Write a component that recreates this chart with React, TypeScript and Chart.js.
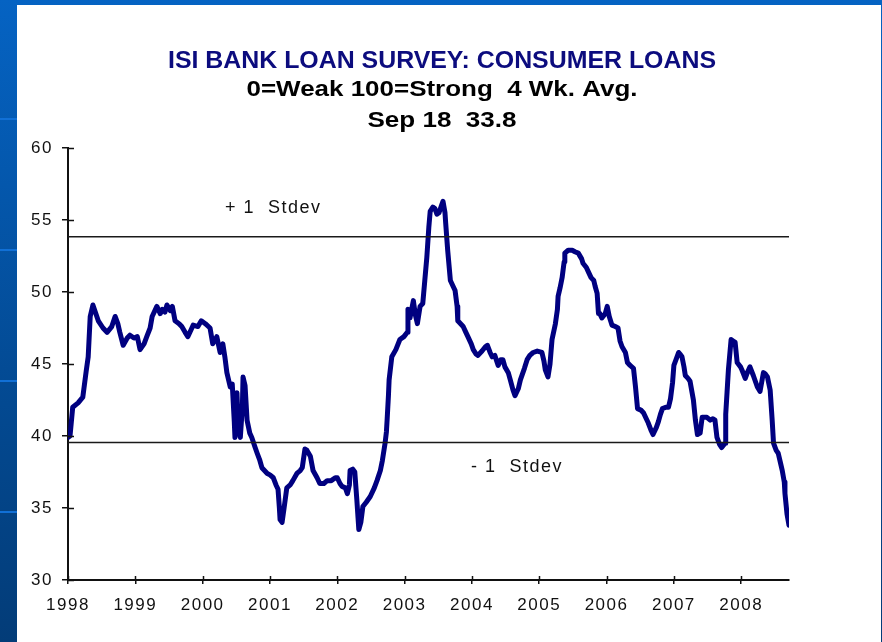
import React, { useEffect, useRef } from "react";
import { Chart, registerables } from "chart.js";

Chart.register(...registerables);

// ---- data (decimal years, index value) ----
const dates = [
  1998.0, 1998.03, 1998.07, 1998.15, 1998.22, 1998.27, 1998.3, 1998.33, 1998.37, 1998.45,
  1998.52, 1998.58, 1998.65, 1998.7, 1998.74, 1998.77, 1998.82, 1998.88, 1998.92, 1998.98,
  1999.03, 1999.07, 1999.13, 1999.17, 1999.22, 1999.25, 1999.32, 1999.37, 1999.4, 1999.44,
  1999.47, 1999.52, 1999.55, 1999.59, 1999.65, 1999.69, 1999.74, 1999.78, 1999.83, 1999.86,
  1999.93, 1999.98, 2000.04, 2000.11, 2000.15, 2000.21, 2000.26, 2000.3, 2000.33, 2000.36,
  2000.41, 2000.44, 2000.47, 2000.48, 2000.51, 2000.53, 2000.56, 2000.59, 2000.6, 2000.63,
  2000.66, 2000.7, 2000.73, 2000.78, 2000.81, 2000.85, 2000.88, 2000.96, 2001.0, 2001.05,
  2001.09, 2001.12, 2001.14, 2001.15, 2001.18, 2001.21, 2001.25, 2001.3, 2001.34, 2001.4,
  2001.45, 2001.48, 2001.52, 2001.55, 2001.6, 2001.64, 2001.7, 2001.74, 2001.8, 2001.85,
  2001.91, 2001.97, 2002.0, 2002.04, 2002.07, 2002.12, 2002.15, 2002.18, 2002.19, 2002.23,
  2002.26, 2002.29, 2002.32, 2002.35, 2002.38, 2002.43, 2002.49, 2002.55, 2002.59, 2002.64,
  2002.67, 2002.71, 2002.73, 2002.74, 2002.76, 2002.77, 2002.81, 2002.87, 2002.93, 2002.99,
  2003.04, 2003.05, 2003.08, 2003.13, 2003.16, 2003.19, 2003.23, 2003.27, 2003.3, 2003.33,
  2003.36, 2003.38, 2003.42, 2003.45, 2003.48, 2003.51, 2003.54, 2003.57, 2003.6, 2003.61,
  2003.64, 2003.68, 2003.72, 2003.75, 2003.78, 2003.79, 2003.87, 2003.91, 2003.94, 2003.99,
  2004.02, 2004.06, 2004.09, 2004.15, 2004.2, 2004.23, 2004.27, 2004.3, 2004.34, 2004.39,
  2004.43, 2004.46, 2004.49, 2004.54, 2004.57, 2004.61, 2004.64, 2004.69, 2004.72, 2004.78,
  2004.82, 2004.86, 2004.91, 2004.97, 2005.04, 2005.07, 2005.09, 2005.13, 2005.16, 2005.19,
  2005.24, 2005.27, 2005.28, 2005.31, 2005.34, 2005.37, 2005.38, 2005.43, 2005.49, 2005.53,
  2005.58, 2005.63, 2005.65, 2005.7, 2005.73, 2005.77, 2005.81, 2005.83, 2005.86, 2005.88,
  2005.9, 2005.93, 2005.98, 2006.01, 2006.04, 2006.08, 2006.13, 2006.17, 2006.2, 2006.23,
  2006.28, 2006.31, 2006.35, 2006.4, 2006.43, 2006.46, 2006.51, 2006.55, 2006.59, 2006.62,
  2006.66, 2006.69, 2006.74, 2006.77, 2006.8, 2006.83, 2006.88, 2006.92, 2006.95, 2006.98,
  2007.0, 2007.04, 2007.07, 2007.09, 2007.12, 2007.15, 2007.17, 2007.21, 2007.24, 2007.29,
  2007.32, 2007.35, 2007.39, 2007.42, 2007.46, 2007.49, 2007.54, 2007.58, 2007.61, 2007.64,
  2007.68, 2007.71, 2007.76, 2007.77, 2007.81, 2007.85, 2007.88, 2007.91, 2007.94, 2007.99,
  2008.01, 2008.06, 2008.1, 2008.13, 2008.18, 2008.21, 2008.24, 2008.28, 2008.33, 2008.36,
  2008.39, 2008.43, 2008.46, 2008.48, 2008.52, 2008.55, 2008.58, 2008.61, 2008.64, 2008.65,
  2008.68, 2008.71,
];

const values = [
  39.9, 40.0, 42.0, 42.3, 42.7, 44.5, 45.5, 48.3, 49.1, 48.0,
  47.5, 47.2, 47.6, 48.3, 47.8, 47.2, 46.3, 46.8, 47.0, 46.8,
  46.9, 46.0, 46.4, 46.9, 47.5, 48.3, 49.0, 48.5, 48.8, 48.6,
  49.1, 48.7, 49.0, 48.0, 47.8, 47.6, 47.2, 46.9, 47.4, 47.7,
  47.6, 48.0, 47.8, 47.5, 46.4, 46.9, 45.8, 46.4, 45.5, 44.4,
  43.4, 43.6, 41.0, 39.9, 43.0, 40.5, 39.9, 42.0, 44.1, 43.5,
  41.1, 40.2, 39.9, 39.2, 38.8, 38.3, 37.8, 37.4, 37.3, 37.1,
  36.6, 36.3, 35.0, 34.2, 34.0, 35.0, 36.4, 36.6, 36.9, 37.4,
  37.6, 37.8, 39.1, 39.0, 38.6, 37.6, 37.1, 36.7, 36.7, 36.9,
  36.9, 37.1, 37.1, 36.7, 36.5, 36.4, 36.0, 36.6, 37.6, 37.7,
  37.5, 35.6, 33.5, 34.0, 35.1, 35.4, 35.8, 36.4, 36.9, 37.6,
  38.3, 39.5, 40.3, 41.1, 42.8, 43.9, 45.5, 46.0, 46.7, 46.9,
  47.2, 48.8, 48.2, 49.4, 48.4, 47.8, 49.0, 49.2, 50.8, 52.4,
  54.5, 55.6, 55.9, 55.8, 55.4, 55.5, 55.9, 56.3, 55.5, 54.8,
  52.9, 50.8, 50.4, 50.1, 49.0, 48.0, 47.6, 47.2, 46.9, 46.4,
  46.0, 45.7, 45.6, 45.9, 46.2, 46.3, 45.8, 45.5, 45.6, 44.9,
  45.3, 45.3, 44.8, 44.4, 43.9, 43.2, 42.8, 43.3, 43.9, 44.7,
  45.3, 45.6, 45.8, 45.9, 45.8, 45.2, 44.6, 44.1, 45.0, 46.7,
  47.8, 48.8, 49.7, 50.3, 51.0, 52.1, 52.7, 52.9, 52.9, 52.8,
  52.7, 52.3, 52.0, 51.7, 51.4, 51.0, 50.8, 50.4, 49.9, 48.5,
  48.5, 48.2, 48.5, 49.0, 48.3, 47.7, 47.6, 47.5, 46.6, 46.2,
  45.8, 45.1, 44.9, 44.7, 43.4, 41.9, 41.8, 41.6, 41.2, 40.9,
  40.4, 40.1, 40.6, 41.0, 41.5, 41.9, 42.0, 42.0, 42.6, 43.7,
  44.9, 45.4, 45.8, 45.7, 45.5, 44.8, 44.2, 44.0, 43.8, 42.5,
  41.1, 40.1, 40.2, 41.3, 41.3, 41.3, 41.1, 41.2, 41.1, 39.9,
  39.4, 39.2, 39.5, 41.5, 44.6, 46.7, 46.6, 46.5, 45.1, 44.8,
  44.6, 44.0, 44.5, 44.8, 44.2, 43.8, 43.4, 43.1, 44.4, 44.3,
  44.1, 43.2, 41.1, 39.5, 39.0, 38.8, 38.2, 37.6, 36.8, 36.0,
  34.6, 33.8,
];

const yearTicks = [1998, 1999, 2000, 2001, 2002, 2003, 2004, 2005, 2006, 2007, 2008];
const valueTicks = [30, 35, 40, 45, 50, 55, 60];
const xMin = 1998;
const xMax = 2008.71;
const yMin = 30;
const yMax = 60;
const plusStdev = 53.84;
const minusStdev = 39.55;
const plusStdevLabel = "+ 1  Stdev";
const minusStdevLabel = "- 1  Stdev";
const titleLine = "ISI BANK LOAN SURVEY: CONSUMER LOANS";
const subtitleLine = "0=Weak 100=Strong  4 Wk. Avg.";
const dateLine = "Sep 18  33.8";

function drawFitted(ctx: CanvasRenderingContext2D, text: string, cx: number, baseline: number, font: string, color: string, width: number) {
  ctx.save();
  ctx.font = font;
  (ctx as any).letterSpacing = "0px";
  ctx.fillStyle = color;
  ctx.textAlign = "center";
  ctx.textBaseline = "alphabetic";
  const w = ctx.measureText(text).width;
  const sx = width / w;
  ctx.translate(cx, baseline);
  ctx.scale(sx, 1);
  ctx.fillText(text, 0, 0);
  ctx.restore();
}

const overlayPlugin = {
  id: "overlay",
  beforeDraw(chart: any) {
    (chart.ctx as any).letterSpacing = "1.5px";
  },
  afterDraw(chart: any) {
    const ctx: CanvasRenderingContext2D = chart.ctx;
    const { chartArea } = chart;
    const xs = chart.scales.x;
    const ys = chart.scales.y;
    ctx.save();
    ctx.strokeStyle = "#111";
    ctx.lineWidth = 1.5;
    ctx.beginPath();
    valueTicks.forEach((v) => {
      const py = Math.round(ys.getPixelForValue(v)) + 0.5;
      ctx.moveTo(chartArea.left, py);
      ctx.lineTo(chartArea.left + 6, py);
    });
    yearTicks.forEach((v) => {
      const px = Math.round(xs.getPixelForValue(v)) + 0.5;
      ctx.moveTo(px, chartArea.bottom);
      ctx.lineTo(px, chartArea.bottom - 4);
    });
    ctx.stroke();

    // stdev labels
    ctx.font = "18px 'Liberation Sans', Arial, sans-serif";
    (ctx as any).letterSpacing = "1.5px";
    ctx.fillStyle = "#111";
    ctx.textAlign = "left";
    ctx.textBaseline = "alphabetic";
    ctx.fillText(plusStdevLabel, chartArea.left + 157, ys.getPixelForValue(plusStdev) - 24);
    ctx.fillText(minusStdevLabel, chartArea.left + 403, ys.getPixelForValue(minusStdev) + 30);
    ctx.restore();

    // titles
    drawFitted(ctx, titleLine, 442, 68, "bold 24px 'Liberation Sans', Arial, sans-serif", "#0c0c7e", 548);
    drawFitted(ctx, subtitleLine, 442, 96, "bold 22px 'Liberation Sans', Arial, sans-serif", "#000", 391);
    drawFitted(ctx, dateLine, 442, 127, "bold 22px 'Liberation Sans', Arial, sans-serif", "#000", 149);
  },
};

export default function App() {
  const ref = useRef<HTMLCanvasElement | null>(null);

  useEffect(() => {
    if (!ref.current) return;
    const series = dates.map((d, i) => ({ x: d, y: values[i] }));
    const chart = new Chart(ref.current, {
      type: "line",
      data: {
        datasets: [
          {
            data: [
              { x: xMin, y: plusStdev },
              { x: xMax, y: plusStdev },
            ],
            borderColor: "#1a1a1a",
            borderWidth: 1.6,
            pointRadius: 0,
            order: 0,
          },
          {
            data: [
              { x: xMin, y: minusStdev },
              { x: xMax, y: minusStdev },
            ],
            borderColor: "#1a1a1a",
            borderWidth: 1.6,
            pointRadius: 0,
            order: 0,
          },
          {
            data: series,
            borderColor: "#000080",
            borderWidth: 5,
            pointRadius: 0,
            tension: 0,
            borderJoinStyle: "round",
            borderCapStyle: "round",
            order: 1,
          },
        ],
      },
      options: {
        responsive: false,
        animation: false,
        devicePixelRatio: 1,
        layout: { padding: { left: 18, right: 93, top: 148, bottom: 0 } },
        plugins: {
          legend: { display: false },
          tooltip: { enabled: false },
          title: { display: false },
        },
        scales: {
          x: {
            type: "linear",
            min: xMin,
            max: xMax,
            afterBuildTicks: (scale: any) => {
              scale.ticks = yearTicks.map((v) => ({ value: v }));
            },
            afterFit: (scale: any) => {
              scale.height = 62;
            },
            ticks: {
              autoSkip: false,
              maxRotation: 0,
              padding: 11,
              color: "#111",
              font: { family: "'Liberation Sans', Arial, sans-serif", size: 17 },
              callback: (v: any) => String(v),
            },
            grid: {
              drawOnChartArea: false,
              drawTicks: true,
              tickLength: 4,
              color: "#111",
              lineWidth: 1.5,
            },
            border: { display: true, color: "#111", width: 2 },
          },
          y: {
            type: "linear",
            min: yMin,
            max: yMax,
            afterBuildTicks: (scale: any) => {
              scale.ticks = valueTicks.map((v) => ({ value: v }));
            },
            afterFit: (scale: any) => {
              scale.width = 50;
            },
            ticks: {
              padding: 9,
              color: "#111",
              font: { family: "'Liberation Sans', Arial, sans-serif", size: 17 },
              callback: (v: any) => String(v),
            },
            grid: {
              drawOnChartArea: false,
              drawTicks: true,
              tickLength: 6,
              color: "#111",
              lineWidth: 1.5,
            },
            border: { display: true, color: "#111", width: 2 },
          },
        },
      },
      plugins: [overlayPlugin],
    });
    return () => chart.destroy();
  }, []);

  const stripe = (top: number) => (
    <div
      style={{
        position: "absolute",
        left: 0,
        top,
        width: 17,
        height: 2,
        background: "#1170d6",
      }}
    />
  );

  return (
    <div
      style={{
        position: "fixed",
        left: 0,
        top: 0,
        width: 882,
        height: 642,
        overflow: "hidden",
        background: "linear-gradient(to bottom, #0563c3 0%, #034a93 60%, #033c78 100%)",
      }}
    >
      {stripe(118)}
      {stripe(249)}
      {stripe(380)}
      {stripe(511)}
      <div
        style={{
          position: "absolute",
          left: 17,
          top: 5,
          width: 864,
          height: 637,
          background: "#ffffff",
        }}
      />
      <canvas
        ref={ref}
        width={882}
        height={642}
        style={{ position: "absolute", left: 0, top: 0, width: 882, height: 642 }}
      />
    </div>
  );
}
